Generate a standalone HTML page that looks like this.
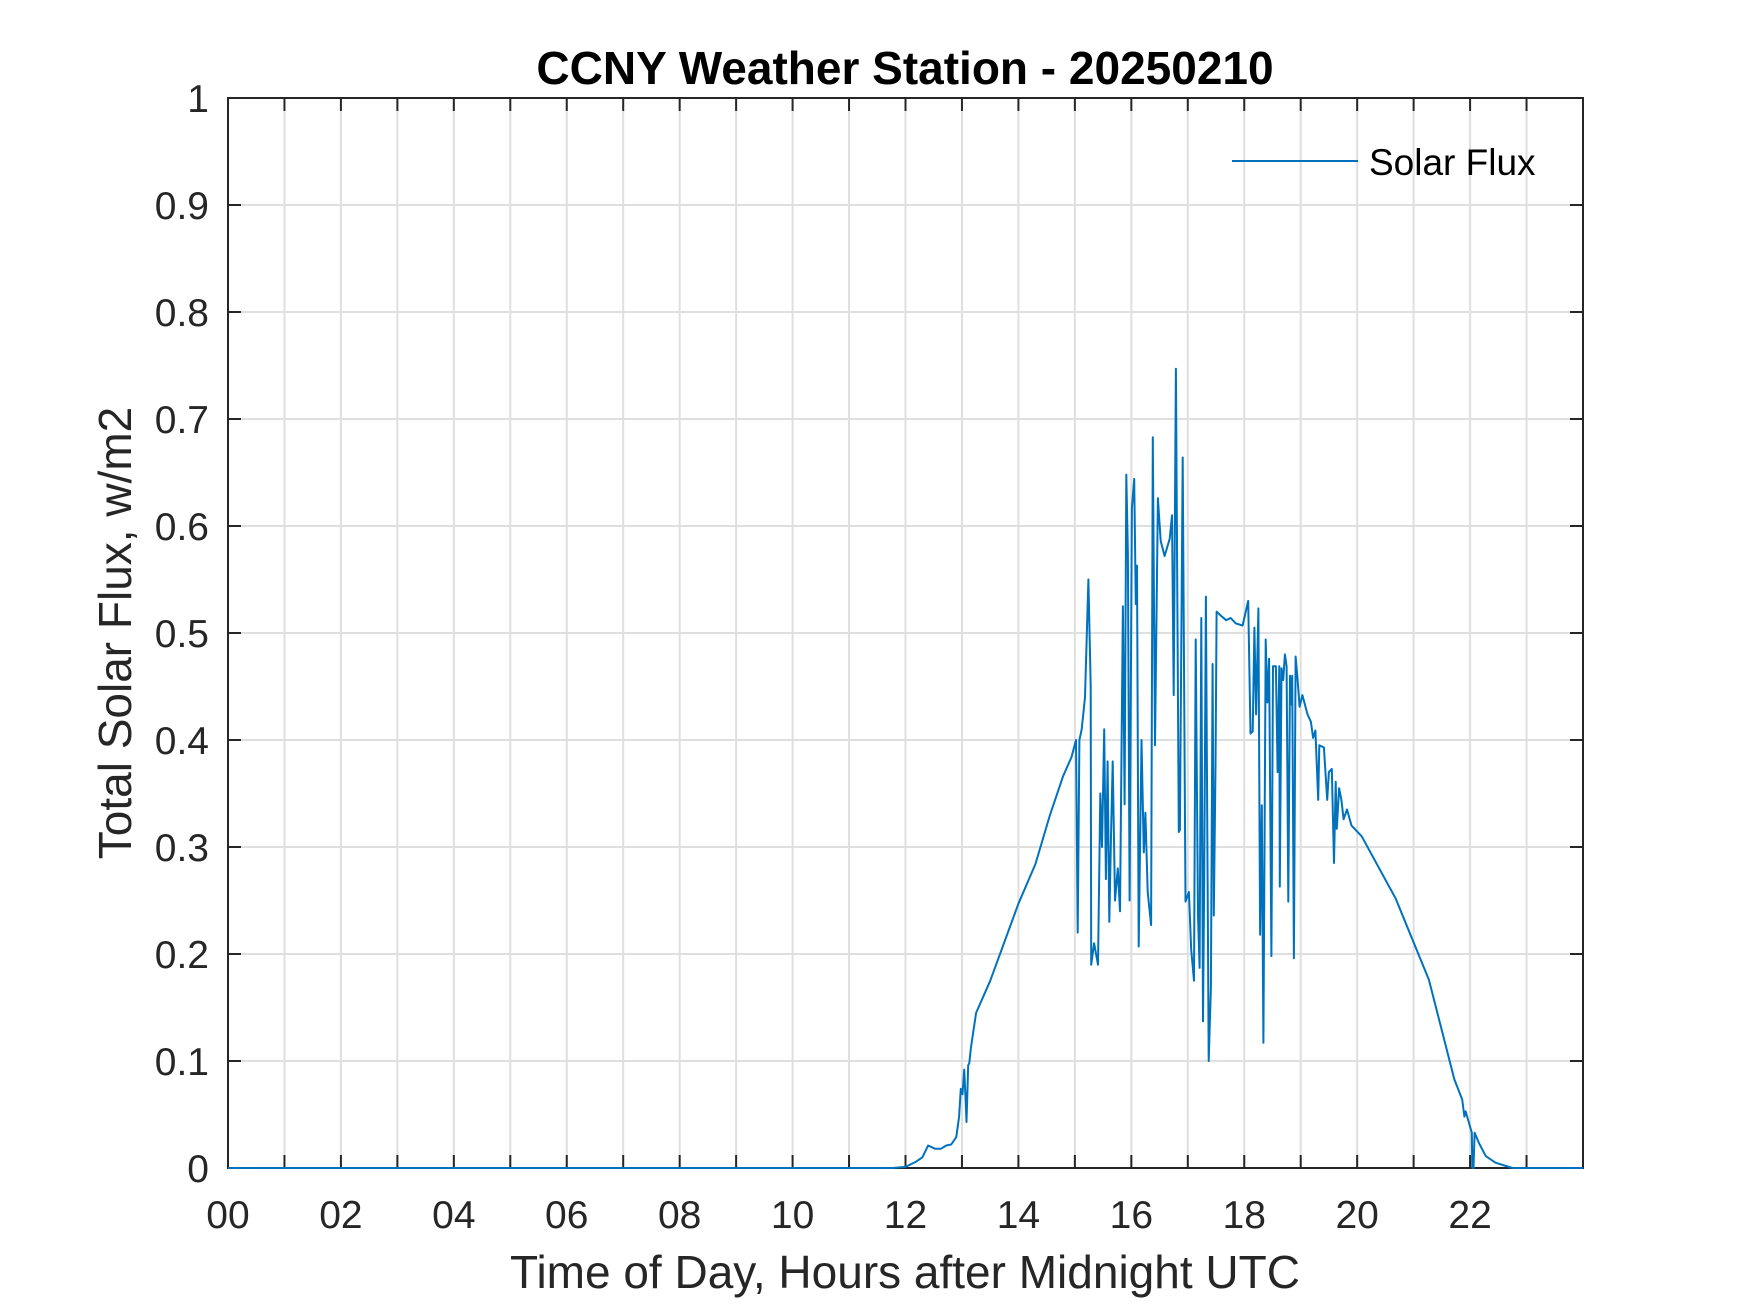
<!DOCTYPE html>
<html><head><meta charset="utf-8"><style>
html,body{margin:0;padding:0;background:#fff;}
svg{display:block;font-family:"Liberation Sans",Arial,sans-serif;}
</style></head><body>
<svg id="chart" width="1750" height="1313" viewBox="0 0 1750 1313" xmlns="http://www.w3.org/2000/svg">
<rect width="1750" height="1313" fill="#fff"/>
<g id="grid"></g>
<g id="axes"></g>
<g id="series"></g>
<text x="905" y="84" text-anchor="middle" font-size="46" font-weight="bold" fill="#000">CCNY Weather Station - 20250210</text>
<text x="905" y="1288" text-anchor="middle" font-size="46" fill="#262626">Time of Day, Hours after Midnight UTC</text>
<text transform="translate(131,633) rotate(-90)" text-anchor="middle" font-size="46" fill="#262626">Total Solar Flux, w/m2</text>
<g>
<line x1="1232" y1="161" x2="1358" y2="161" stroke="#0072BD" stroke-width="2"/>
<text x="1369" y="175" font-size="37" fill="#000">Solar Flux</text>
</g>
</svg>
<script>
const xTickValues = [0,2,4,6,8,10,12,14,16,18,20,22];
const xTickLabels = ["00","02","04","06","08","10","12","14","16","18","20","22"];
const yTickValues = [0,0.1,0.2,0.3,0.4,0.5,0.6,0.7,0.8,0.9,1];
const yTickLabels = ["0","0.1","0.2","0.3","0.4","0.5","0.6","0.7","0.8","0.9","1"];
const hours = [0,11.77,12.0,12.19,12.30,12.40,12.52,12.63,12.72,12.81,12.90,12.95,12.98,13.01,13.04,13.06,13.08,13.11,13.13,13.16,13.25,13.5,14.0,14.3,14.56,14.79,14.94,15.02,15.05,15.08,15.12,15.18,15.24,15.28,15.29,15.34,15.41,15.45,15.48,15.52,15.55,15.58,15.61,15.64,15.67,15.71,15.76,15.80,15.85,15.88,15.91,15.94,15.97,16.01,16.05,16.08,16.10,16.13,16.18,16.22,16.25,16.29,16.35,16.38,16.42,16.47,16.52,16.59,16.68,16.72,16.75,16.79,16.84,16.86,16.91,16.96,17.02,17.06,17.11,17.14,17.18,17.21,17.24,17.27,17.29,17.32,17.37,17.41,17.44,17.46,17.49,17.51,17.59,17.68,17.76,17.85,17.97,18.07,18.11,18.15,18.18,18.21,18.25,18.28,18.31,18.34,18.38,18.41,18.44,18.48,18.51,18.56,18.59,18.62,18.63,18.66,18.69,18.72,18.75,18.78,18.81,18.84,18.85,18.88,18.91,18.94,18.98,19.03,19.12,19.18,19.22,19.26,19.31,19.33,19.41,19.47,19.50,19.55,19.59,19.62,19.64,19.68,19.72,19.76,19.82,19.9,20.08,20.68,21.27,21.72,21.86,21.90,21.92,21.97,22.03,22.04,22.06,22.08,22.16,22.28,22.45,22.75,24];
const flux = [0,0,0.001,0.006,0.010,0.021,0.018,0.018,0.021,0.022,0.029,0.048,0.074,0.069,0.092,0.070,0.043,0.096,0.098,0.113,0.145,0.175,0.247,0.284,0.33,0.366,0.384,0.40,0.22,0.40,0.41,0.44,0.55,0.45,0.19,0.21,0.19,0.35,0.30,0.41,0.27,0.38,0.23,0.31,0.38,0.25,0.28,0.24,0.525,0.34,0.648,0.574,0.25,0.617,0.644,0.527,0.563,0.207,0.40,0.295,0.332,0.258,0.227,0.683,0.395,0.626,0.586,0.572,0.588,0.61,0.442,0.747,0.314,0.316,0.664,0.249,0.258,0.204,0.175,0.494,0.236,0.187,0.514,0.137,0.27,0.534,0.10,0.169,0.471,0.236,0.375,0.52,0.516,0.512,0.514,0.509,0.507,0.53,0.406,0.408,0.505,0.424,0.523,0.218,0.339,0.117,0.494,0.435,0.476,0.198,0.469,0.469,0.37,0.469,0.263,0.467,0.456,0.48,0.469,0.249,0.46,0.433,0.46,0.196,0.478,0.46,0.431,0.442,0.424,0.417,0.402,0.409,0.344,0.395,0.393,0.344,0.37,0.373,0.285,0.361,0.317,0.355,0.344,0.326,0.335,0.32,0.31,0.252,0.176,0.083,0.064,0.048,0.053,0.044,0.033,0,0,0.033,0.023,0.011,0.005,0,0];

const NS = "http://www.w3.org/2000/svg";
const L = 228, R = 1583, T = 98, B = 1168;
const xMin = 0, xMax = 24, yMin = 0, yMax = 1;
function xs(h){ return L + (h - xMin) / (xMax - xMin) * (R - L); }
function ys(v){ return B - (v - yMin) / (yMax - yMin) * (B - T); }
function mk(tag, attrs, parent){
  const e = document.createElementNS(NS, tag);
  for (const k in attrs) e.setAttribute(k, attrs[k]);
  parent.appendChild(e);
  return e;
}
const grid = document.getElementById('grid');
const axes = document.getElementById('axes');
const series = document.getElementById('series');

for (let h = 1; h < 24; h++) {
  const g = mk('line', {x1: xs(h), x2: xs(h), y1: T, y2: B, stroke: '#dfdfdf', 'stroke-width': 2}, grid);
  
  
}
for (let i = 1; i < yTickValues.length - 1; i++) {
  const g = mk('line', {x1: L, x2: R, y1: ys(yTickValues[i]), y2: ys(yTickValues[i]), stroke: '#dfdfdf', 'stroke-width': 2}, grid);
  
  
}

const box = mk('rect', {x: L, y: T, width: R - L, height: B - T, fill: 'none', stroke: '#262626', 'stroke-width': 2}, axes);



for (let h = 1; h < 24; h++) {
  const t1 = mk('line', {x1: xs(h), x2: xs(h), y1: B, y2: B - 13, stroke: '#262626', 'stroke-width': 2}, axes);
  
  
  const t2 = mk('line', {x1: xs(h), x2: xs(h), y1: T, y2: T + 13, stroke: '#262626', 'stroke-width': 2}, axes);
  
  
}
for (let i = 0; i < xTickValues.length; i++) {
  const t = mk('text', {x: xs(xTickValues[i]), y: 1228, 'text-anchor': 'middle', 'font-size': 39, fill: '#262626'}, axes);
  t.textContent = xTickLabels[i];
  
  
}
for (let i = 0; i < yTickValues.length; i++) {
  const y = ys(yTickValues[i]);
  const a = mk('line', {x1: L, x2: L + 13, y1: y, y2: y, stroke: '#262626', 'stroke-width': 2}, axes);
  
  
  const b = mk('line', {x1: R, x2: R - 13, y1: y, y2: y, stroke: '#262626', 'stroke-width': 2}, axes);
  
  
  const t = mk('text', {x: 209, y: y + 14, 'text-anchor': 'end', 'font-size': 39, fill: '#262626'}, axes);
  t.textContent = yTickLabels[i];
  
  
}

let pts = [];
for (let i = 0; i < hours.length; i++) pts.push(xs(hours[i]).toFixed(1) + ',' + ys(flux[i]).toFixed(1));
const line = mk('polyline', {points: pts.join(' '), fill: 'none', stroke: '#0072BD', 'stroke-width': 2, 'stroke-linejoin': 'round'}, series);


</script>
</body></html>
